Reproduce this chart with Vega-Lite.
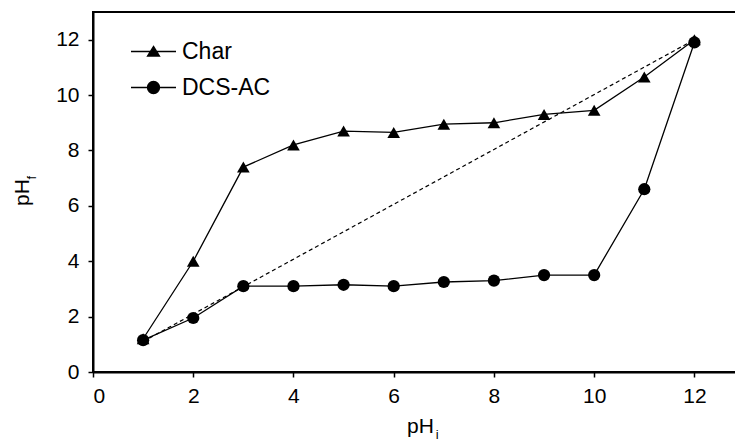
{
  "$schema": "https://vega.github.io/schema/vega-lite/v6.json",
  "width": 643,
  "height": 360,
  "autosize": {"type": "none"},
  "padding": {"left": 93, "top": 12, "right": 0, "bottom": 69},
  "background": "white",
  "config": {
    "font": "Liberation Sans",
    "view": {"stroke": "black", "strokeWidth": 2},
    "axis": {
      "domainColor": "black", "domainWidth": 2, "tickColor": "black", "tickWidth": 1.5,
      "tickSize": 5, "grid": false, "labelFont": "Liberation Sans", "labelFontSize": 21,
      "labelColor": "black", "titleFont": "Liberation Sans", "titleFontSize": 21,
      "titleFontWeight": "normal", "titleColor": "black"
    }
  },
  "datasets": {
    "main": [
      {"pHi": 1, "pHf": 1.2, "series": "Char"},
      {"pHi": 2, "pHf": 4.0, "series": "Char"},
      {"pHi": 3, "pHf": 7.4, "series": "Char"},
      {"pHi": 4, "pHf": 8.2, "series": "Char"},
      {"pHi": 5, "pHf": 8.7, "series": "Char"},
      {"pHi": 6, "pHf": 8.65, "series": "Char"},
      {"pHi": 7, "pHf": 8.95, "series": "Char"},
      {"pHi": 8, "pHf": 9.0, "series": "Char"},
      {"pHi": 9, "pHf": 9.3, "series": "Char"},
      {"pHi": 10, "pHf": 9.45, "series": "Char"},
      {"pHi": 11, "pHf": 10.65, "series": "Char"},
      {"pHi": 12, "pHf": 12.0, "series": "Char"},
      {"pHi": 1, "pHf": 1.15, "series": "DCS-AC"},
      {"pHi": 2, "pHf": 1.95, "series": "DCS-AC"},
      {"pHi": 3, "pHf": 3.1, "series": "DCS-AC"},
      {"pHi": 4, "pHf": 3.1, "series": "DCS-AC"},
      {"pHi": 5, "pHf": 3.15, "series": "DCS-AC"},
      {"pHi": 6, "pHf": 3.1, "series": "DCS-AC"},
      {"pHi": 7, "pHf": 3.25, "series": "DCS-AC"},
      {"pHi": 8, "pHf": 3.3, "series": "DCS-AC"},
      {"pHi": 9, "pHf": 3.5, "series": "DCS-AC"},
      {"pHi": 10, "pHf": 3.5, "series": "DCS-AC"},
      {"pHi": 11, "pHf": 6.6, "series": "DCS-AC"},
      {"pHi": 12, "pHf": 11.9, "series": "DCS-AC"}
    ],
    "diag": [
      {"pHi": 1, "pHf": 1.1},
      {"pHi": 12, "pHf": 12.0}
    ],
    "subs": [
      {"label": "f", "axis": "y"},
      {"label": "i", "axis": "x"}
    ]
  },
  "layer": [
    {
      "data": {"name": "diag"},
      "mark": {"type": "line", "color": "black", "strokeWidth": 1.2, "strokeDash": [4, 3]},
      "encoding": {
        "x": {"field": "pHi", "type": "quantitative"},
        "y": {"field": "pHf", "type": "quantitative"}
      }
    },
    {
      "data": {"name": "main"},
      "mark": {"type": "line", "color": "black", "strokeWidth": 1.3},
      "encoding": {
        "x": {
          "field": "pHi", "type": "quantitative",
          "scale": {"domain": [0, 12.83], "nice": false},
          "axis": {"values": [0, 2, 4, 6, 8, 10, 12], "title": "pH", "labelPadding": 8,
                   "titleX": 327, "titleY": 60, "titleBaseline": "alphabetic", "titleAnchor": "middle"}
        },
        "y": {
          "field": "pHf", "type": "quantitative",
          "scale": {"domain": [0, 13], "nice": false},
          "axis": {"values": [0, 2, 4, 6, 8, 10, 12], "title": "pH", "labelPadding": 9,
                   "titleX": -65, "titleY": 180, "titleBaseline": "alphabetic", "titleAngle": -90}
        },
        "detail": {"field": "series"}
      }
    },
    {
      "data": {"name": "main"},
      "transform": [{"filter": "datum.series == 'Char'"}],
      "mark": {"type": "point", "shape": "triangle-up", "filled": true, "color": "black", "size": 160, "opacity": 1},
      "encoding": {
        "x": {"field": "pHi", "type": "quantitative"},
        "y": {"field": "pHf", "type": "quantitative"}
      }
    },
    {
      "data": {"name": "main"},
      "transform": [{"filter": "datum.series == 'DCS-AC'"}],
      "mark": {"type": "point", "shape": "circle", "filled": true, "color": "black", "size": 150, "opacity": 1},
      "encoding": {
        "x": {"field": "pHi", "type": "quantitative"},
        "y": {"field": "pHf", "type": "quantitative"}
      }
    },
    {
      "data": {"name": "main"},
      "transform": [{"filter": "false"}],
      "mark": {"type": "point", "strokeWidth": 1.3, "opacity": 1},
      "encoding": {
        "x": {"field": "pHi", "type": "quantitative"},
        "y": {"field": "pHf", "type": "quantitative"},
        "fill": {
          "field": "series", "type": "nominal",
          "scale": {"domain": ["Char", "DCS-AC"], "range": ["black", "black"]}
        },
        "stroke": {
          "field": "series", "type": "nominal",
          "scale": {"domain": ["Char", "DCS-AC"], "range": ["black", "black"]}
        },
        "shape": {
          "field": "series", "type": "nominal",
          "scale": {
            "domain": ["Char", "DCS-AC"],
            "range": [
              "M-3.75,0L3.75,0M0,-0.85L1,0.75L-1,0.75Z",
              "M-3.75,0L3.75,0M1,0A1,1,0,1,1,-1,0A1,1,0,1,1,1,0Z"
            ]
          },
          "legend": {
            "title": null, "orient": "none", "legendX": 49, "legendY": 28, "padding": 0,
            "symbolSize": 144, "labelOffset": 17, "rowPadding": 12,
            "symbolStrokeWidth": 1.3,
            "labelFont": "Liberation Sans", "labelFontSize": 23, "labelColor": "black"
          }
        }
      }
    },
    {
      "data": {"name": "subs"},
      "transform": [{"filter": "datum.axis == 'y'"}],
      "mark": {"type": "text", "fontSize": 13, "angle": 270, "align": "center", "baseline": "middle", "color": "black", "font": "Liberation Sans"},
      "encoding": {
        "x": {"datum": -1.22},
        "y": {"datum": 7.02},
        "text": {"field": "label"}
      }
    },
    {
      "data": {"name": "subs"},
      "transform": [{"filter": "datum.axis == 'x'"}],
      "mark": {"type": "text", "fontSize": 13, "align": "center", "baseline": "alphabetic", "color": "black", "font": "Liberation Sans"},
      "encoding": {
        "x": {"datum": 6.87},
        "y": {"datum": -2.42},
        "text": {"field": "label"}
      }
    }
  ]
}
